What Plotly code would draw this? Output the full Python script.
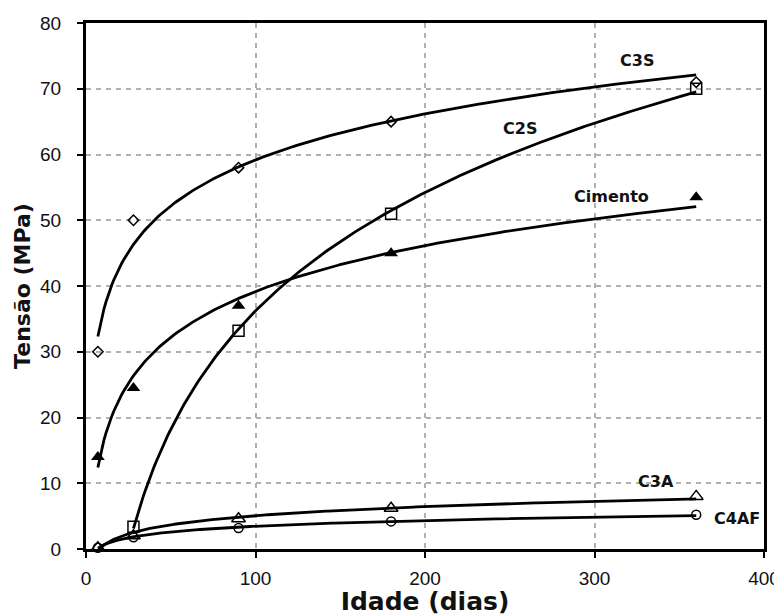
import numpy as np
import plotly.graph_objects as go

# ---- data ----
days_c3s = [7, 28, 90, 180, 360]
c3s = [30, 50, 58, 65, 71]

days_c2s = [28, 90, 180, 360]
c2s = [3.4, 33.2, 51, 70]

days_cim = [7, 28, 90, 180, 360]
cimento = [14, 24.5, 37, 45, 53.5]

days_c3a = [7, 28, 90, 180, 360]
c3a = [0.2, 2, 4.6, 6.2, 8]

days_c4af = [7, 28, 90, 180, 360]
c4af = [0.2, 1.8, 3.2, 4.2, 5.2]

x_ticks = [0, 100, 200, 300, 400]
y_ticks = [0, 10, 20, 30, 40, 50, 60, 70, 80]

series = [
    ("C3S", days_c3s, c3s, dict(symbol="diamond-open", size=8, line=dict(width=1.5))),
    ("C2S", days_c2s, c2s, dict(symbol="square-open", size=11, line=dict(width=1.5))),
    ("Cimento", days_cim, cimento, dict(symbol="triangle-up", size=12)),
    ("C3A", days_c3a, c3a, dict(symbol="triangle-up-open", size=12, line=dict(width=1.5))),
    ("C4AF", days_c4af, c4af, dict(symbol="circle-open", size=9, line=dict(width=1.5))),
]

fig = go.Figure()
for name, xs, ys, mk in series:
    xs_a = np.array(xs, dtype=float)
    ys_a = np.array(ys, dtype=float)
    a, b = np.polyfit(np.log(xs_a), ys_a, 1)  # logarithmic trend line
    xf = np.linspace(xs_a.min(), xs_a.max(), 300)
    yf = a * np.log(xf) + b
    fig.add_trace(go.Scatter(x=xf, y=yf, mode="lines",
                             line=dict(color="black", width=2.8),
                             showlegend=False, hoverinfo="skip"))
    fig.add_trace(go.Scatter(x=xs, y=ys, mode="markers", name=name,
                             marker=dict(color="black", **mk),
                             showlegend=False, cliponaxis=False))

label_font = dict(family="DejaVu Sans", size=16, color="#111")
labels = [
    ("C3S", 325, 74.3),
    ("C2S", 256, 64),
    ("Cimento", 310, 53.6),
    ("C3A", 336, 10.3),
    ("C4AF", 384, 4.7),
]
for t, x, y in labels:
    fig.add_annotation(x=x, y=y, text="<b>" + t + "</b>", showarrow=False, font=label_font)

axis_common = dict(
    showline=True, linecolor="black", linewidth=3, mirror=True,
    ticks="outside", ticklen=6, tickwidth=2, tickcolor="black",
    showgrid=True, gridcolor="#b0b0b0", gridwidth=1.5, griddash="5px,5px",
    zeroline=False, automargin=False,
    tickfont=dict(family="Liberation Sans", size=19, color="#111"),
)

fig.update_xaxes(range=[0, 400], tickvals=x_ticks, ticklabelstandoff=4,
                 title=dict(text="<b>Idade (dias)</b>", standoff=8,
                            font=dict(family="DejaVu Sans", size=25, color="#111")),
                 **axis_common)
fig.update_yaxes(range=[0, 80], tickvals=y_ticks, ticklabelstandoff=12,
                 title=dict(text="<b>Tensão (MPa)</b>", standoff=4,
                            font=dict(family="DejaVu Sans", size=22, color="#111")),
                 **axis_common)

# page body has an 8px margin, so the figure is sized/placed to compensate
fig.update_layout(
    width=774, height=608,
    margin=dict(l=78, r=18, t=15, b=67),
    plot_bgcolor="white", paper_bgcolor="white",
    showlegend=False,
)

fig.write_html("out.html")
